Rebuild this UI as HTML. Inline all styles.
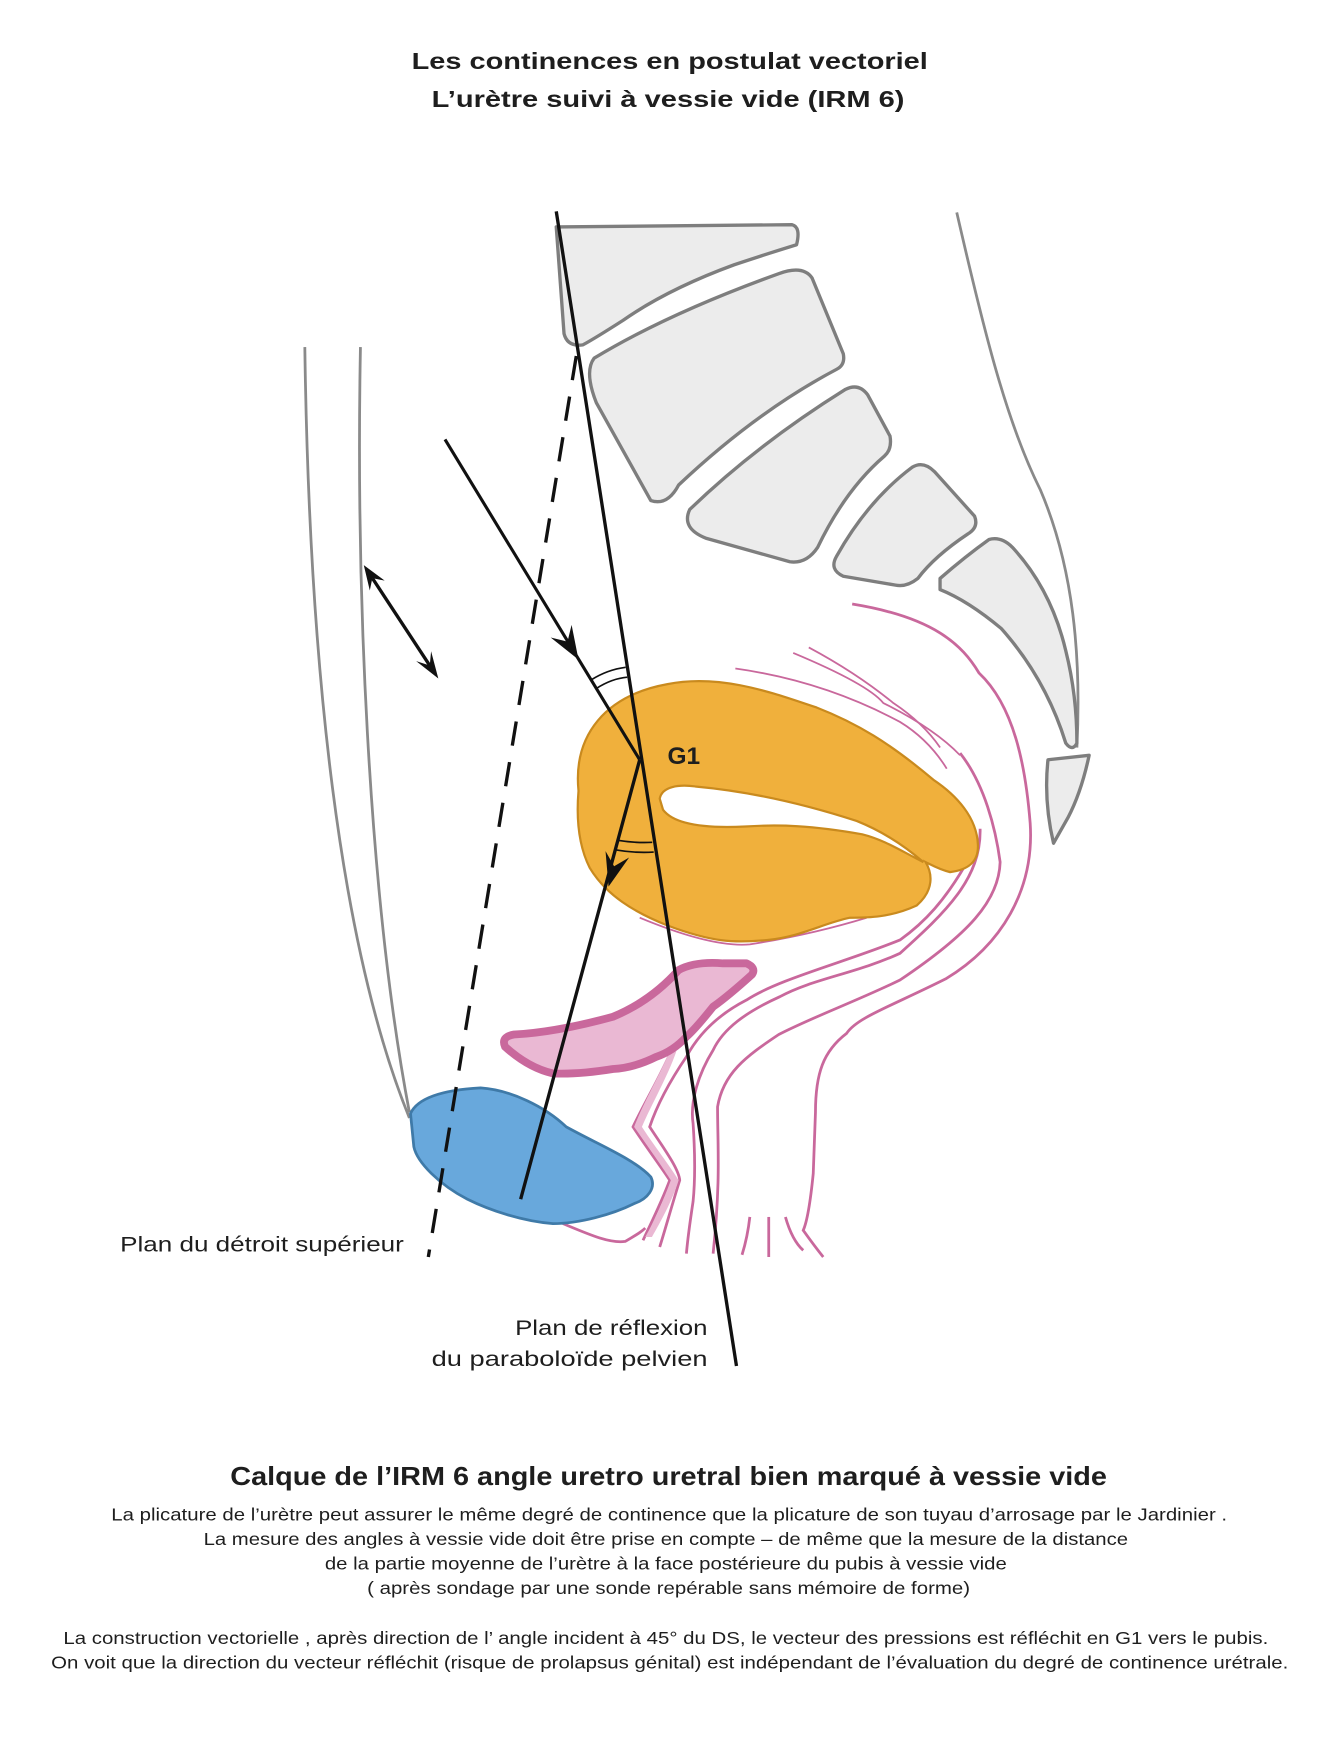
<!DOCTYPE html>
<html><head><meta charset="utf-8"><style>
html,body{margin:0;padding:0;background:#fff;}
svg{display:block;}
text{font-family:"Liberation Sans",sans-serif;fill:#1e1e1e;}
</style></head><body>
<svg width="1335" height="1742" viewBox="0 0 1200 1566" preserveAspectRatio="none" xmlns="http://www.w3.org/2000/svg">
<rect width="1200" height="1566" fill="#fff"/>
<text x="370" y="62" font-size="21" font-weight="bold" textLength="464" lengthAdjust="spacingAndGlyphs">Les continences en postulat vectoriel</text>
<text x="388" y="96" font-size="21" font-weight="bold" textLength="425" lengthAdjust="spacingAndGlyphs">L’urètre suivi à vessie vide (IRM 6)</text>

<g fill="none" stroke="#8a8a8a" stroke-width="2.5">
<path d="M274,312 C278,600 305,850 368,1005"/>
<path d="M324,312 C320,520 330,800 368,1000"/>
<path d="M860,191 C885,300 905,380 935,440 C965,510 972,590 968,672"/>
</g>

<g fill="#ececec" stroke="#7e7e7e" stroke-width="3" stroke-linejoin="round">
<path d="M500,204 L712,202 Q720,204 716,220 Q690,228 660,238 Q600,260 560,288 Q535,304 524,310 Q510,312 507,300 Z"/>
<path d="M534,322 Q600,282 700,246 Q722,238 730,250 L758,318 Q760,328 752,332 Q680,370 610,436 Q600,455 585,450 L536,362 Q525,334 534,322 Z"/>
<path d="M620,458 Q680,400 760,350 Q772,344 780,355 L800,392 Q802,404 795,410 Q760,440 735,492 Q725,507 710,505 L635,484 Q612,475 620,458 Z"/>
<path d="M752,500 Q780,450 820,420 Q830,414 840,424 L876,464 Q880,474 870,480 Q840,500 825,520 Q815,528 805,526 L758,518 Q745,512 752,500 Z"/>
<path d="M845,520 Q868,500 889,485 Q900,482 910,492 Q945,530 958,585 Q968,625 968,668 Q964,676 958,668 Q940,610 900,565 Q870,540 845,530 Z"/>
<path d="M942,683 L979,679 Q972,712 960,735 L947,758 Q938,720 942,683 Z"/>
</g>

<g fill="none" stroke="#c9689c" stroke-width="2.5">
<path d="M766,543 C840,555 865,580 880,605 C912,635 922,690 926,740 C930,800 900,850 850,880 C800,905 770,915 761,929 C740,945 733,965 733,1000 L731,1055 Q727,1095 722,1106 Q732,1120 740,1130"/>
<path d="M863,677 C885,705 895,745 899,775 C898,810 870,840 809,881 C770,900 731,914 700,930 C670,950 650,965 645,995 C645,1030 648,1060 641,1127"/>
<path d="M881,745 C882,790 850,820 809,857 C770,875 730,880 701,896 C670,910 650,925 641,944 C628,965 620,990 623,1010 C625,1040 625,1060 623,1080 C620,1100 618,1115 617,1127"/>
<path d="M872,770 C850,810 830,830 809,845 C760,865 700,880 671,899 C640,915 625,935 617,950 C600,975 590,995 584,1013 C595,1030 610,1050 611,1061 C605,1080 598,1105 593,1121"/>
<path d="M605,941 C595,965 580,990 569,1013 C580,1030 595,1050 602,1061 C595,1080 585,1100 578,1115"/>
<path d="M506,1100 C530,1110 548,1118 562,1116 C572,1110 576,1108 580,1104"/>
<path d="M674,1094 Q672,1112 667,1128"/>
<path d="M691,1094 L691,1130"/>
<path d="M706,1094 Q712,1115 722,1124"/>
<path d="M661,601 Q740,612 809,649 Q835,665 851,691" stroke-width="1.6"/>
<path d="M713,587 Q780,615 794,632 Q840,655 863,679" stroke-width="1.6"/>
<path d="M727,582 Q770,605 803,632 Q830,650 845,672" stroke-width="1.6"/>
<path d="M575,825 Q640,852 674,849 Q730,840 779,825" stroke-width="1.6"/>
</g>
<path d="M602,945 C592,968 578,992 570,1013 C582,1030 596,1050 603,1061 C596,1080 588,1098 580,1112 L586,1112 C594,1098 604,1080 610,1061 C602,1048 588,1030 577,1013 C586,992 600,968 608,945 Z" fill="#eab8d3"/>

<path d="M454,941 Q450,932 462,930 Q500,928 551,914 Q585,900 610,872 Q625,864 650,866 L671,866 Q680,870 676,876 Q655,895 641,905 Q625,925 617,932 Q605,945 590,950 Q570,960 551,961 Q520,966 497,965 Q475,960 454,941 Z" fill="#eab8d3" stroke="#c9689c" stroke-width="7" stroke-linejoin="round"/>

<path d="M520,711 C515,660 545,625 600,615 C650,605 700,625 734,636 C770,650 800,668 839,701 C860,715 878,735 879,759 C880,775 870,782 854,784 C845,782 838,778 832,775 C838,785 840,800 824,814 C800,825 780,825 764,825 C740,830 720,842 690,845 C660,848 640,847 600,832 C570,820 545,805 530,780 C520,760 518,735 520,711 Z" fill="#f0b03c" stroke="#c98a1e" stroke-width="2"/>
<path d="M593,718 C595,707 610,705 625,707 C680,712 730,725 770,738 C795,748 815,762 830,775 C810,765 795,755 775,750 C730,742 700,741 670,743 C630,745 605,740 596,728 Z" fill="#fff" stroke="#c98a1e" stroke-width="2"/>

<path d="M369,1001 C375,988 395,980 432,978 C460,980 490,995 509,1013 C540,1030 570,1042 585,1058 C590,1068 582,1078 570,1082 C550,1092 520,1100 497,1100 C470,1098 440,1088 420,1078 C395,1065 375,1045 372,1031 Z" fill="#68a8dc" stroke="#3f7aa8" stroke-width="2.5"/>

<g stroke="#111" fill="none">
<line x1="500" y1="190" x2="662" y2="1228" stroke-width="3"/>
<line x1="518" y1="320" x2="385" y2="1130" stroke-width="3" stroke-dasharray="22,15"/>
<line x1="400" y1="395" x2="575" y2="683" stroke-width="2.8"/>
<line x1="575" y1="683" x2="468" y2="1078" stroke-width="3"/>
<line x1="334.7" y1="519.7" x2="386.3" y2="598.3" stroke-width="3"/>
<path d="M536.1,618.9 Q550,610 563.8,608.8" stroke-width="1.5"/>
<path d="M531.4,611.2 Q546,602 562.4,599.9" stroke-width="1.5"/>
<path d="M555.4,755.4 Q571,758 586.3,757.2" stroke-width="1.5"/>
<path d="M553,764 Q570,767 587.6,766" stroke-width="1.5"/>
</g>
<g fill="#111">
<polygon points="520,593 495,573.1 510.1,576.8 513.8,561.7"/>
<polygon points="547,797 544.3,765.1 552,778.7 565.5,770.9"/>
<polygon points="394,610 374.1,594.3 386.3,598.3 387.5,585.5"/>
<polygon points="327,508 332.4,530.8 334.7,519.7 345.8,522"/>
</g>

<text x="600" y="687" font-size="22" font-weight="bold">G1</text>
<text x="108" y="1125" font-size="19" textLength="255" lengthAdjust="spacingAndGlyphs">Plan du détroit supérieur</text>
<text x="463" y="1200" font-size="19" textLength="173" lengthAdjust="spacingAndGlyphs">Plan de réflexion</text>
<text x="388" y="1228" font-size="19" textLength="248" lengthAdjust="spacingAndGlyphs">du paraboloïde pelvien</text>

<text x="207" y="1335" font-size="23" font-weight="bold" textLength="788" lengthAdjust="spacingAndGlyphs">Calque de l’IRM 6 angle uretro uretral bien marqué à vessie vide</text>
<g font-size="15.5">
<text x="100" y="1367" textLength="1003" lengthAdjust="spacingAndGlyphs">La plicature de l’urètre peut assurer le même degré de continence que la plicature de son tuyau d’arrosage par le Jardinier .</text>
<text x="183" y="1389" textLength="831" lengthAdjust="spacingAndGlyphs">La mesure des angles à vessie vide doit être prise en compte – de même que la mesure de la distance</text>
<text x="292" y="1411" textLength="613" lengthAdjust="spacingAndGlyphs">de la partie moyenne de l’urètre à la face postérieure du pubis à vessie vide</text>
<text x="330" y="1433" textLength="542" lengthAdjust="spacingAndGlyphs">( après sondage par une sonde repérable  sans mémoire de forme)</text>
<text x="57" y="1478" textLength="1083" lengthAdjust="spacingAndGlyphs">La construction vectorielle , après direction de l’ angle incident à 45° du DS, le vecteur des pressions est réfléchit en G1 vers le pubis.</text>
<text x="46" y="1500" textLength="1112" lengthAdjust="spacingAndGlyphs">On voit que la direction du vecteur réfléchit (risque de prolapsus génital) est indépendant de l’évaluation du degré de continence urétrale.</text>
</g>
</svg>
</body></html>
